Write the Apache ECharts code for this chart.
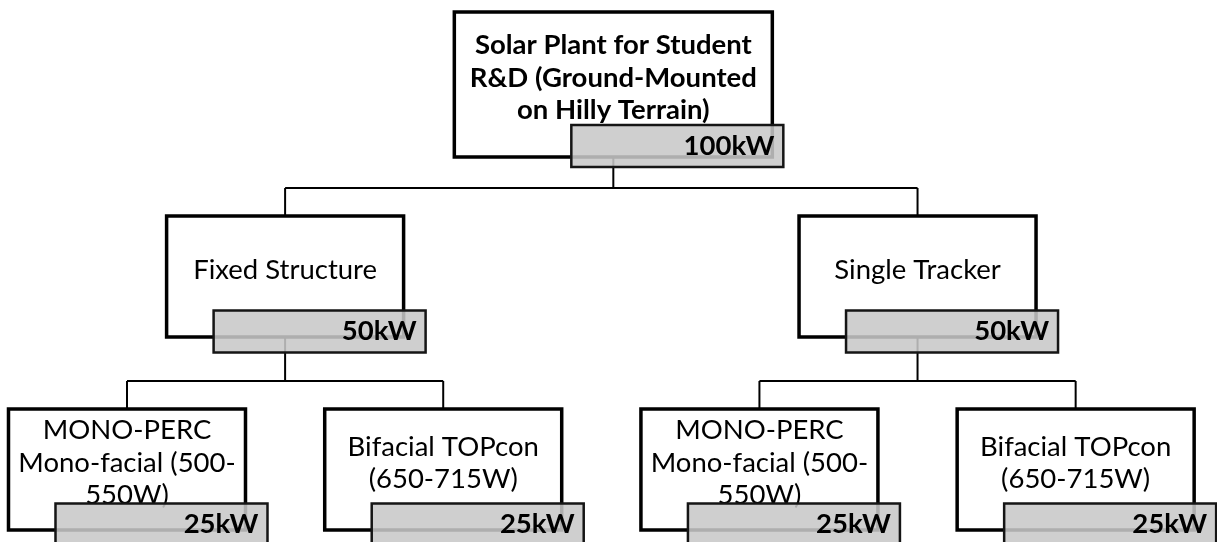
<!DOCTYPE html>
<html>
<head>
<meta charset="utf-8">
<script src="https://cdn.jsdelivr.net/npm/echarts@6/dist/echarts.min.js"></script>
<style>
  html, body { margin: 0; background: #fff; }
  #chart { width: 1217px; height: 542px; }
</style>
</head>
<body>
<div id="chart"></div>
<script>
// org chart nodes
const nodeTitles = [
  'Solar Plant for Student\nR&D (Ground-Mounted\non Hilly Terrain)',
  'Fixed Structure',
  'Single Tracker',
  'MONO-PERC\nMono-facial (500-\n550W)',
  'Bifacial TOPcon\n(650-715W)',
  'MONO-PERC\nMono-facial (500-\n550W)',
  'Bifacial TOPcon\n(650-715W)'
];
const nodeCapacity = ['100kW', '50kW', '50kW', '25kW', '25kW', '25kW', '25kW'];
const nodeParent = [-1, 0, 0, 1, 1, 2, 2];

// layout
const FONT = 'Lato, "Open Sans", sans-serif';
const FONT_SIZE = 27.5;
const LEVEL_TOP = [12, 216, 409];
const BOX_W = [318, 237, 237];
const BOX_H = [145, 121, 121];
const TAG_W = 212;
const TAG_H = 42;
const TAG_OVERHANG = [11, 22, 22];
const ROOT_NUDGE = 12;
const TAG_FILL = 'rgba(200,200,200,0.87)';

const children = nodeParent.map((_, i) => nodeParent
  .map((p, j) => (p === i ? j : -1))
  .filter(j => j >= 0));
const level = nodeParent.map(function depth(p) {
  return p < 0 ? 0 : 1 + depth(nodeParent[p]);
});

// leaves get consecutive slots, parents sit over the middle of their children
const slot = [];
let leafCount = 0;
function place(i) {
  if (!children[i].length) {
    slot[i] = leafCount++;
    return;
  }
  children[i].forEach(place);
  slot[i] = children[i].reduce((s, c) => s + slot[c], 0) / children[i].length;
}
place(0);

const chart = echarts.init(document.getElementById('chart'));

function nodeGeom(api, i) {
  const p = api.coord([slot[i], LEVEL_TOP[level[i]]]);
  const cx = p[0] + (level[i] === 0 ? ROOT_NUDGE : 0);
  const w = BOX_W[level[i]];
  const h = api.size([0, BOX_H[level[i]]])[1];
  return {cx, top: p[1], w, h, left: cx - w / 2, right: cx + w / 2, bottom: p[1] + h};
}

function renderNode(params, api) {
  const i = api.value(2);
  const g = nodeGeom(api, i);
  const lv = level[i];
  const tagRight = g.right + TAG_OVERHANG[lv];
  const tagTop = g.bottom - 0.22 * g.h;
  const els = [];

  if (children[i].length) {
    const kids = children[i].map(c => nodeGeom(api, c));
    const barY = kids[0].top - 28;
    const lineStyle = {stroke: '#000', lineWidth: 2};
    els.push({
      type: 'line', z2: 0,
      shape: {x1: g.cx, y1: g.bottom, x2: g.cx, y2: barY},
      style: lineStyle
    });
    els.push({
      type: 'line', z2: 0,
      shape: {x1: kids[0].cx, y1: barY, x2: kids[kids.length - 1].cx, y2: barY},
      style: lineStyle
    });
    kids.forEach(k => els.push({
      type: 'line', z2: 0,
      shape: {x1: k.cx, y1: barY, x2: k.cx, y2: k.top},
      style: lineStyle
    }));
  }

  els.push({
    type: 'rect', z2: 1,
    shape: {x: g.left, y: g.top, width: g.w, height: g.h},
    style: {fill: '#fff', stroke: '#000', lineWidth: 3.5}
  });
  els.push({
    type: 'text', z2: 2,
    style: {
      text: nodeTitles[i],
      x: g.cx,
      y: g.top + (g.h - 13) / 2,
      align: 'center',
      verticalAlign: 'middle',
      fill: '#000',
      fontFamily: FONT,
      fontSize: FONT_SIZE,
      fontWeight: lv === 0 ? 'bold' : 'normal',
      lineHeight: 32.5
    }
  });
  els.push({
    type: 'rect', z2: 3,
    shape: {x: tagRight - TAG_W, y: tagTop, width: TAG_W, height: TAG_H},
    style: {fill: TAG_FILL, stroke: '#151515', lineWidth: 2.5}
  });
  els.push({
    type: 'text', z2: 4,
    style: {
      text: nodeCapacity[i],
      x: tagRight - 9,
      y: tagTop + TAG_H / 2,
      align: 'right',
      verticalAlign: 'middle',
      fill: '#000',
      fontFamily: FONT,
      fontSize: FONT_SIZE,
      fontWeight: 'bold'
    }
  });
  return {type: 'group', children: els};
}

chart.setOption({
  animation: false,
  backgroundColor: '#fff',
  grid: {left: 0, right: 0, top: 0, bottom: 0},
  xAxis: {type: 'value', min: -0.4016, max: 3.447, show: false},
  yAxis: {type: 'value', min: 0, max: 542, inverse: true, show: false},
  series: [{
    type: 'custom',
    renderItem: renderNode,
    clip: false,
    encode: {x: 0, y: 1},
    data: nodeTitles.map((_, i) => [slot[i], LEVEL_TOP[level[i]], i])
  }]
});
</script>
</body>
</html>
